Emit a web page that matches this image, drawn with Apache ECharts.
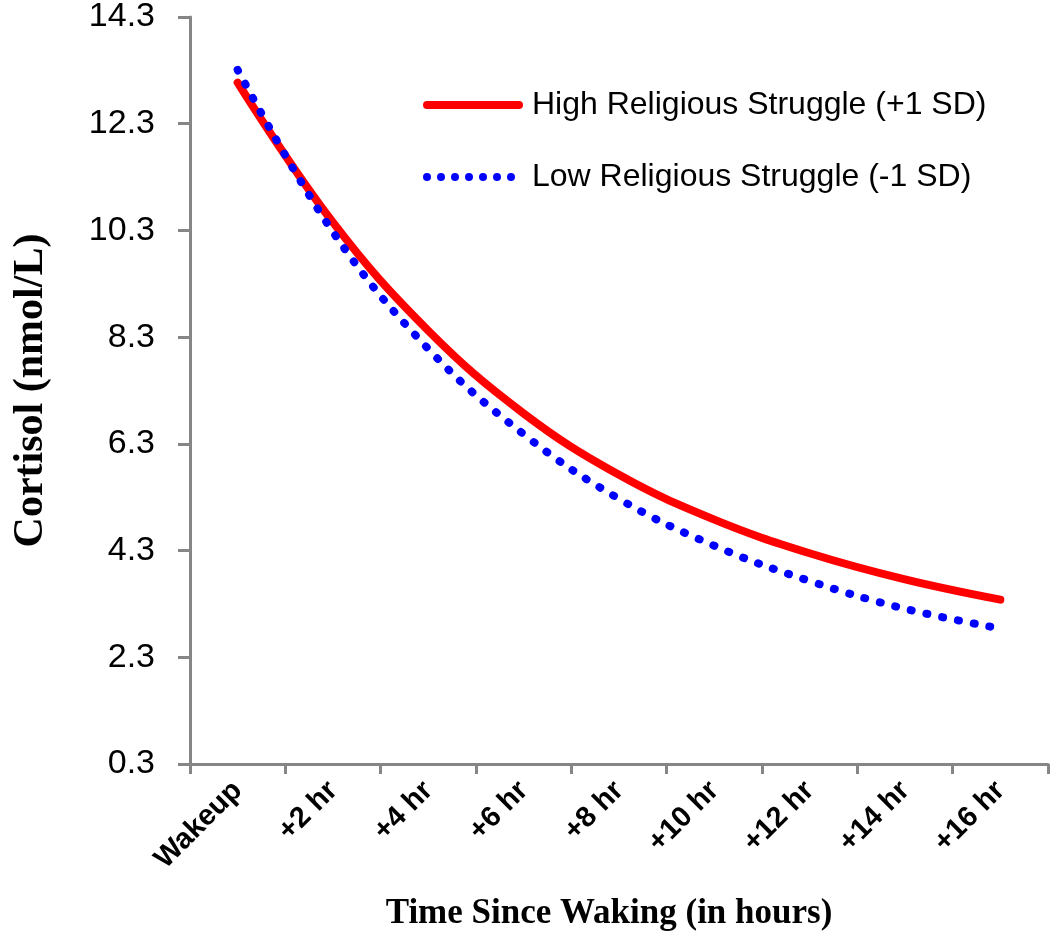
<!DOCTYPE html>
<html>
<head>
<meta charset="utf-8">
<script src="https://cdn.jsdelivr.net/npm/echarts@6/dist/echarts.min.js"></script>
<style>
html,body{margin:0;padding:0;background:#fff;}
#chart{width:1050px;height:937px;}
</style>
</head>
<body>
<div id="chart"></div>
<script>
// categories on the x axis
const hours = ['Wakeup', '+2 hr', '+4 hr', '+6 hr', '+8 hr', '+10 hr', '+12 hr', '+14 hr', '+16 hr'];
// cortisol
const highStruggle = [13.07, 10.45, 8.42, 6.87, 5.72, 4.88, 4.25, 3.76, 3.38];
const lowStruggle = [13.31, 10.27, 8.08, 6.48, 5.27, 4.39, 3.73, 3.21, 2.84];
const yMin = 0.3, yMax = 14.3, yStep = 2;

const axisGray = '#868686';
// legend icons: thick bar and a row of dots
const barIcon = 'path://M4,0L96,0A4,4 0 0,1 96,8L4,8A4,4 0 0,1 4,0Z';
let dots = '';
for (let i = 0; i < 7; i++) {
    let cx = 4 + i * 14;
    dots += 'M' + (cx - 4) + ',4a4,4 0 1,0 8,0a4,4 0 1,0 -8,0';
}
const dotIcon = 'path://' + dots;

let chart = echarts.init(document.getElementById('chart'));

const option = {
    backgroundColor: '#fff',
    animation: false,
    grid: {
        left: 190,
        right: 2,
        top: 14,
        bottom: 173
    },
    legend: [{
        data: [{name: 'High Religious Struggle (+1 SD)', icon: barIcon}],
        left: 418,
        top: 84,
        itemWidth: 100,
        itemHeight: 8,
        textStyle: {fontFamily: 'Liberation Sans', fontSize: 32, color: '#000', padding: [0, 0, 0, 4]}
    }, {
        data: [{name: 'Low Religious Struggle (-1 SD)', icon: dotIcon}],
        left: 418,
        top: 156,
        itemWidth: 92,
        itemHeight: 8,
        textStyle: {fontFamily: 'Liberation Sans', fontSize: 32, color: '#000', padding: [0, 0, 0, 12]}
    }],
    xAxis: {
        type: 'category',
        data: hours,
        boundaryGap: true,
        name: 'Time Since Waking (in hours)',
        nameLocation: 'middle',
        nameGap: 132,
        nameTextStyle: {fontFamily: 'Liberation Serif', fontWeight: 'bold', fontSize: 35, color: '#000', padding: [0, 20, 0, 0]},
        axisLine: {lineStyle: {color: axisGray, width: 3}},
        axisTick: {show: true, length: 10, lineStyle: {color: axisGray, width: 3}},
        axisLabel: {
            rotate: 45,
            margin: 22,
            interval: 0,
            fontFamily: 'Liberation Sans',
            fontWeight: 'bold',
            fontSize: 29,
            color: '#000'
        },
        splitLine: {show: false}
    },
    yAxis: {
        type: 'value',
        min: yMin,
        max: yMax,
        interval: yStep,
        name: 'Cortisol (nmol/L)',
        nameLocation: 'middle',
        nameRotate: 90,
        nameGap: 138,
        nameTextStyle: {fontFamily: 'Liberation Serif', fontWeight: 'bold', fontSize: 42, color: '#000'},
        axisLine: {show: true, lineStyle: {color: axisGray, width: 3}},
        axisTick: {show: true, length: 12, lineStyle: {color: axisGray, width: 3}},
        axisLabel: {
            margin: 35,
            fontFamily: 'Liberation Sans',
            fontSize: 34,
            color: '#000',
            formatter: (v) => v.toFixed(1)
        },
        splitLine: {show: false}
    },
    series: [{
        name: 'High Religious Struggle (+1 SD)',
        type: 'line',
        data: highStruggle,
        smooth: 0.4,
        symbol: 'none',
        lineStyle: {color: '#ff0000', width: 8, cap: 'round'},
        itemStyle: {color: '#ff0000'}
    }, {
        name: 'Low Religious Struggle (-1 SD)',
        type: 'line',
        data: lowStruggle,
        smooth: 0.4,
        symbol: 'none',
        lineStyle: {color: '#0000ff', width: 8, type: [1, 15], cap: 'round'},
        itemStyle: {color: '#0000ff'}
    }]
};
chart.setOption(option);
</script>
</body>
</html>
